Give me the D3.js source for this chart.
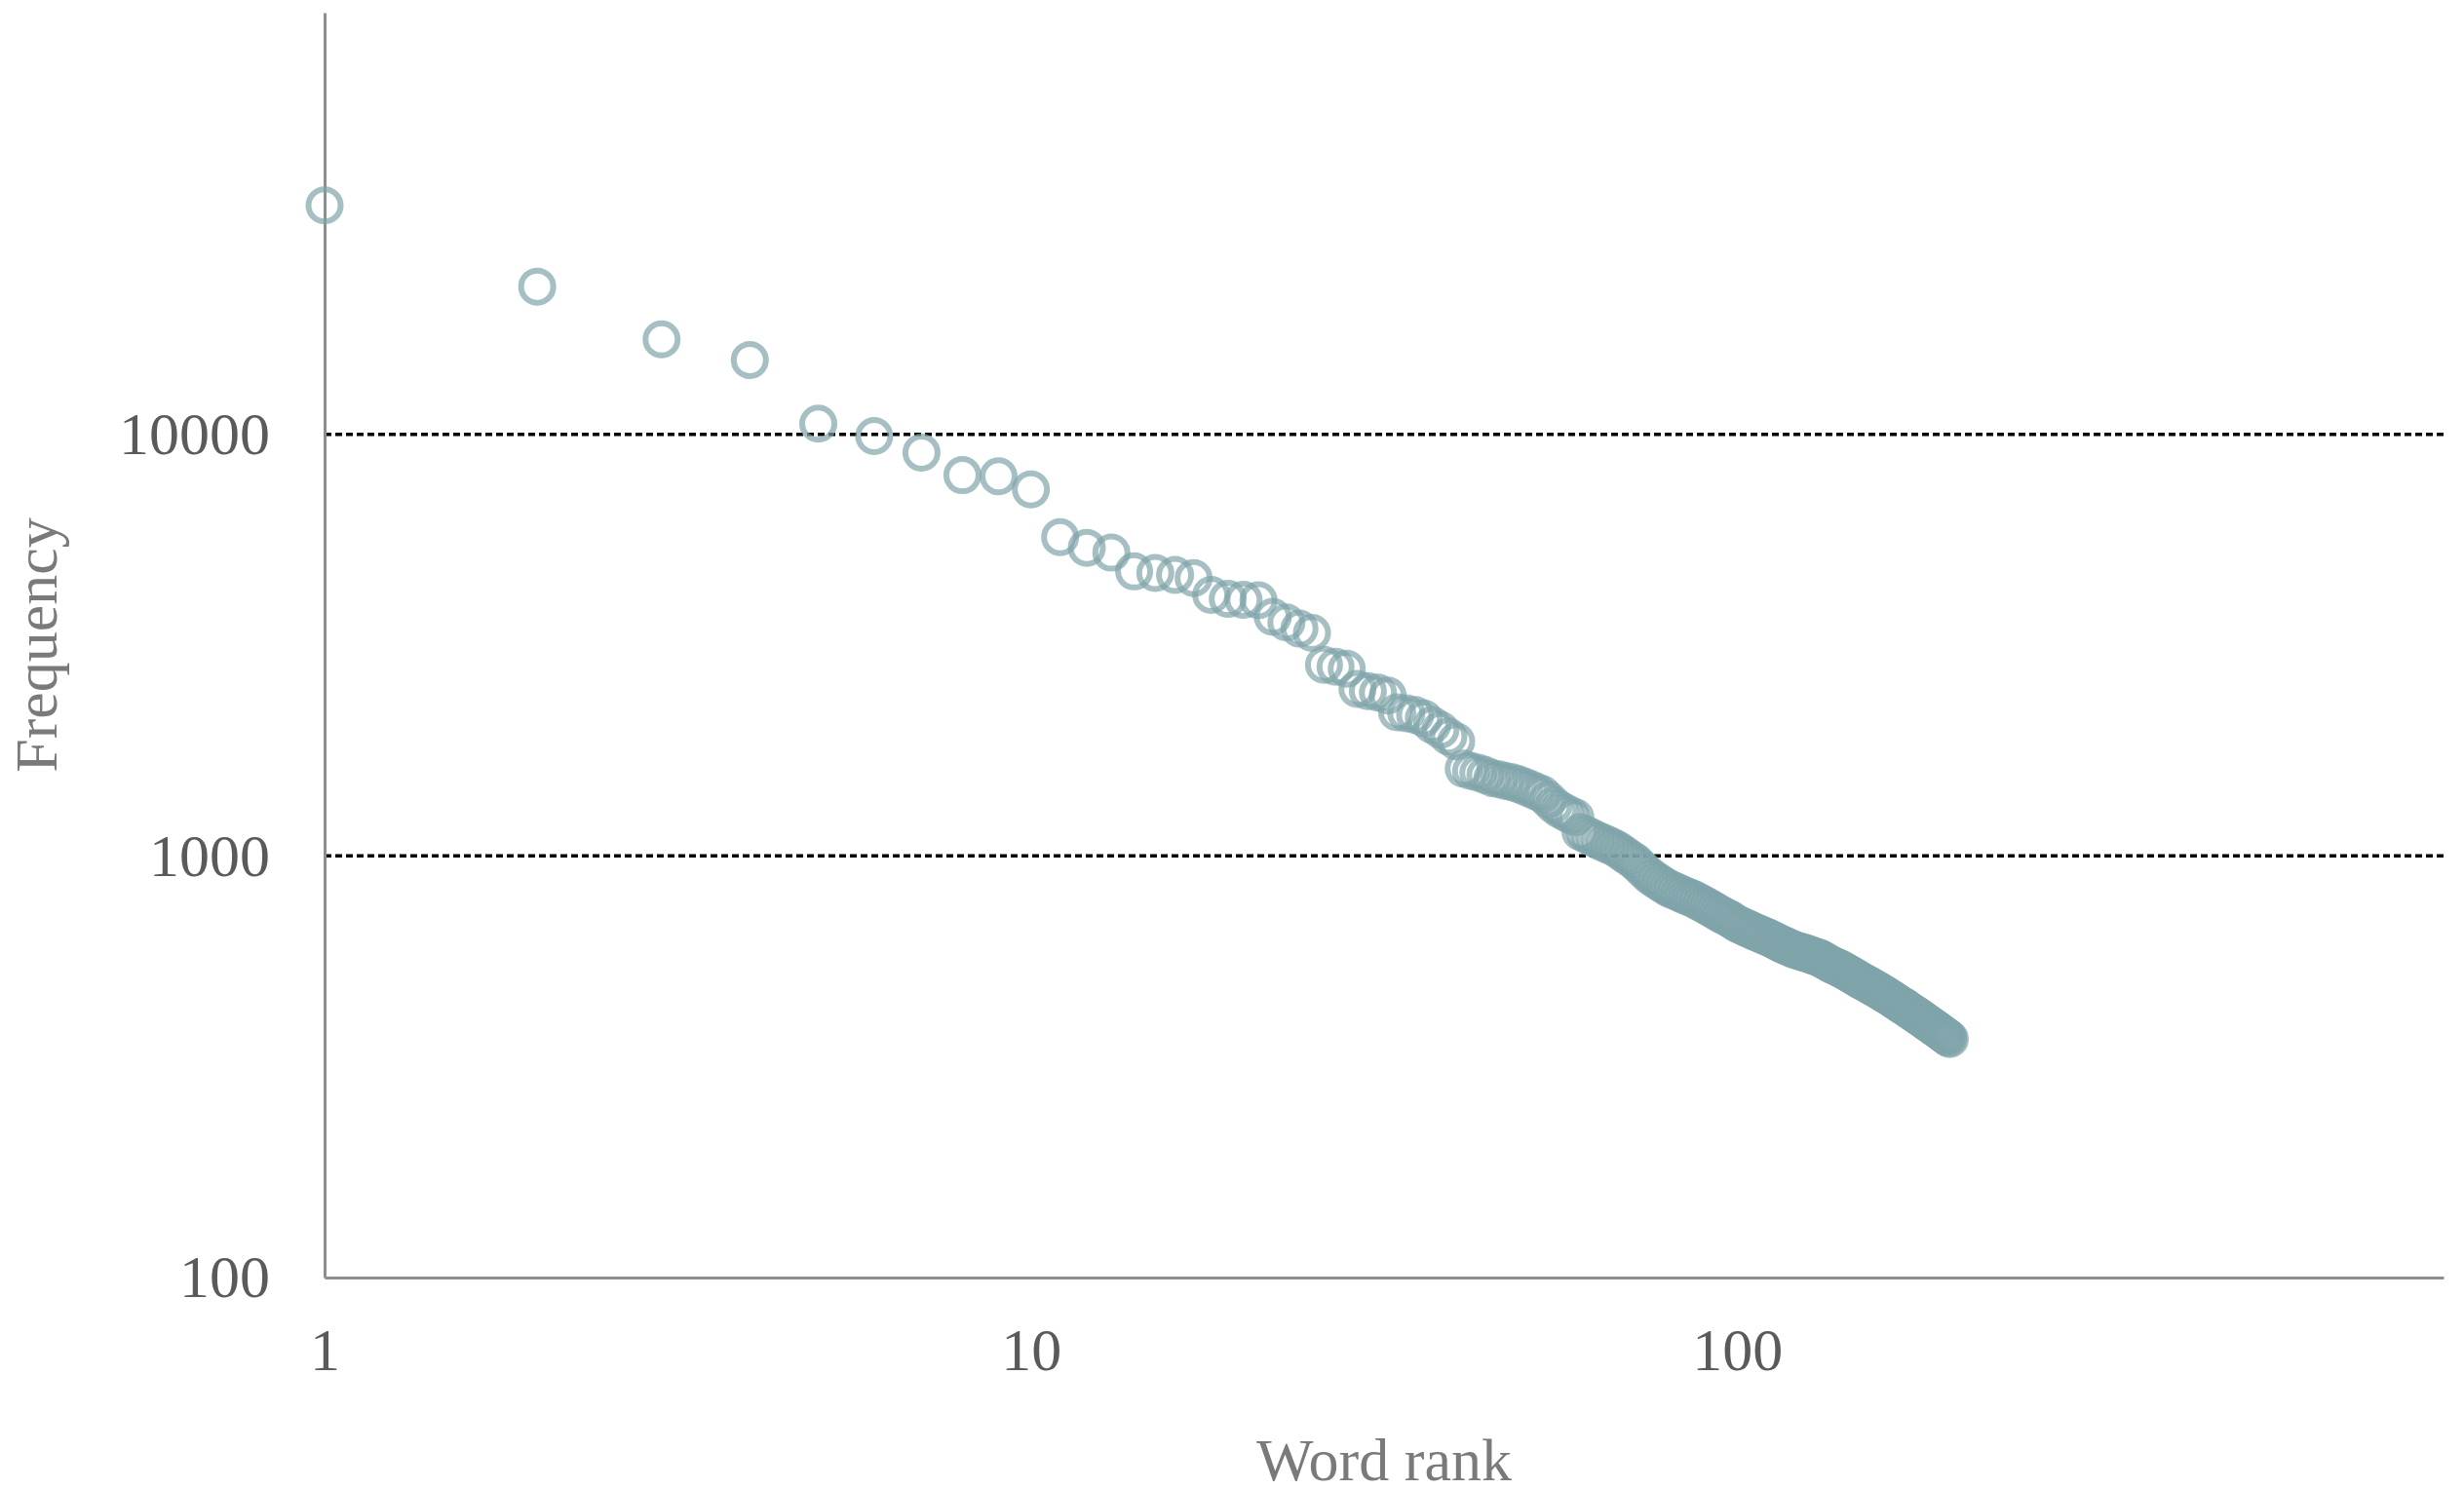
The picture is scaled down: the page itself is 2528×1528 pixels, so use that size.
<!DOCTYPE html>
<html>
<head>
<meta charset="utf-8">
<script src="https://cdn.jsdelivr.net/npm/d3@7"></script>
<style>
  body { margin: 0; background: #ffffff; }
  svg { display: block; }
</style>
</head>
<body>
<svg id="chart" width="2528" height="1528"></svg>
<script>
// Word frequencies, in rank order (rank = position + 1)
const frequencies = [
  34900, 22400, 16800, 15000, 10600, 9900, 9050, 8000, 7950, 7400,
  5700, 5380, 5240, 4730, 4690, 4640, 4560, 4160, 4070, 4050,
  4040, 3690, 3580, 3460, 3380, 2840, 2810, 2780, 2490, 2460,
  2440, 2400, 2190, 2180, 2160, 2120, 2045, 1990, 1920, 1870,
  1610, 1590, 1575, 1555, 1530, 1520, 1505, 1495, 1480, 1460,
  1440, 1420, 1400, 1360, 1320, 1290, 1270, 1250, 1235, 1140,
  1125, 1110, 1095, 1082, 1070, 1058, 1045, 1030, 1012, 995,
  980, 962, 940, 920, 900, 885, 872, 860, 848, 837,
  830, 823, 815, 808, 801, 795, 788, 780, 772, 765,
  757, 749, 741, 733, 725, 719, 713, 706, 698, 690,
  685, 680, 675, 670, 665, 660, 656, 652, 647, 643,
  639, 634, 630, 625, 620, 616, 612, 608, 604, 600,
  598, 595, 593, 590, 588, 585, 583, 580, 577, 575,
  572, 568, 564, 560, 556, 552, 549, 546, 543, 540,
  536, 533, 529, 526, 522, 519, 515, 512, 508, 505,
  502, 499, 496, 493, 490, 487, 484, 481, 478, 475,
  472, 469, 466, 463, 460, 457, 454, 451, 448, 445,
  442, 440, 437, 434, 431, 428, 426, 423, 420, 418,
  415, 412, 410, 407, 404, 402, 399, 397, 394, 392,
  389, 387, 385, 382, 380, 377, 375, 373, 370, 368
];
const xDomain = [1, 1000];
const yDomain = [100, 100000];
const xTickValues = [1, 10, 100];
const yTickValues = [100, 1000, 10000];
const gridValues = [1000, 10000];
const xTitle = "Word rank";
const yTitle = "Frequency";

(function () {
const points = frequencies.map((f, i) => ({ rank: i + 1, freq: f }));

const svg = d3.select("#chart");
const pLeft = 333, pRight = 2507, pTop = 13, pBottom = 1311;
const FONT = "'Liberation Serif', 'DejaVu Serif', serif";

const x = d3.scaleLog().domain(xDomain).range([pLeft, pRight]);
const y = d3.scaleLog().domain(yDomain).range([pBottom, pTop]);

// Gridlines (dotted)
svg.append("g").selectAll("line")
  .data(gridValues).join("line")
  .attr("x1", pLeft).attr("x2", pRight)
  .attr("y1", d => y(d)).attr("y2", d => y(d))
  .attr("stroke", "#000").attr("stroke-width", 3.5)
  .attr("stroke-dasharray", "7,4");

// Axes
const yAxis = d3.axisLeft(y).tickValues(yTickValues)
  .tickFormat(d3.format("d")).tickSize(0).tickPadding(56);
const xAxis = d3.axisBottom(x).tickValues(xTickValues)
  .tickFormat(d3.format("d")).tickSize(0).tickPadding(51);

const gy = svg.append("g").attr("transform", `translate(${pLeft},0)`).call(yAxis);
const gx = svg.append("g").attr("transform", `translate(0,${pBottom})`).call(xAxis);

[gx, gy].forEach(g => {
  g.select(".domain").attr("stroke", "#8b908f").attr("stroke-width", 3);
  g.selectAll(".tick text")
    .attr("fill", "#5a5a5a")
    .style("font-family", FONT)
    .style("font-size", "62px");
});

// Points
svg.append("g").selectAll("circle")
  .data(points).join("circle")
  .attr("cx", d => x(d.rank))
  .attr("cy", d => y(d.freq))
  .attr("r", 16.5)
  .attr("fill", "none")
  .attr("stroke", "#7fa4a9")
  .attr("stroke-width", 6)
  .attr("stroke-opacity", 0.7);

// Axis titles
svg.append("text")
  .attr("x", (pLeft + pRight) / 2).attr("y", 1519)
  .attr("text-anchor", "middle")
  .attr("fill", "#7a7a7a")
  .style("font-family", FONT).style("font-size", "62px")
  .text(xTitle);

svg.append("text")
  .attr("transform", `translate(58,${(pTop + pBottom) / 2}) rotate(-90)`)
  .attr("text-anchor", "middle")
  .attr("fill", "#7a7a7a")
  .style("font-family", FONT).style("font-size", "62px")
  .text(yTitle);
})();
</script>
</body>
</html>
